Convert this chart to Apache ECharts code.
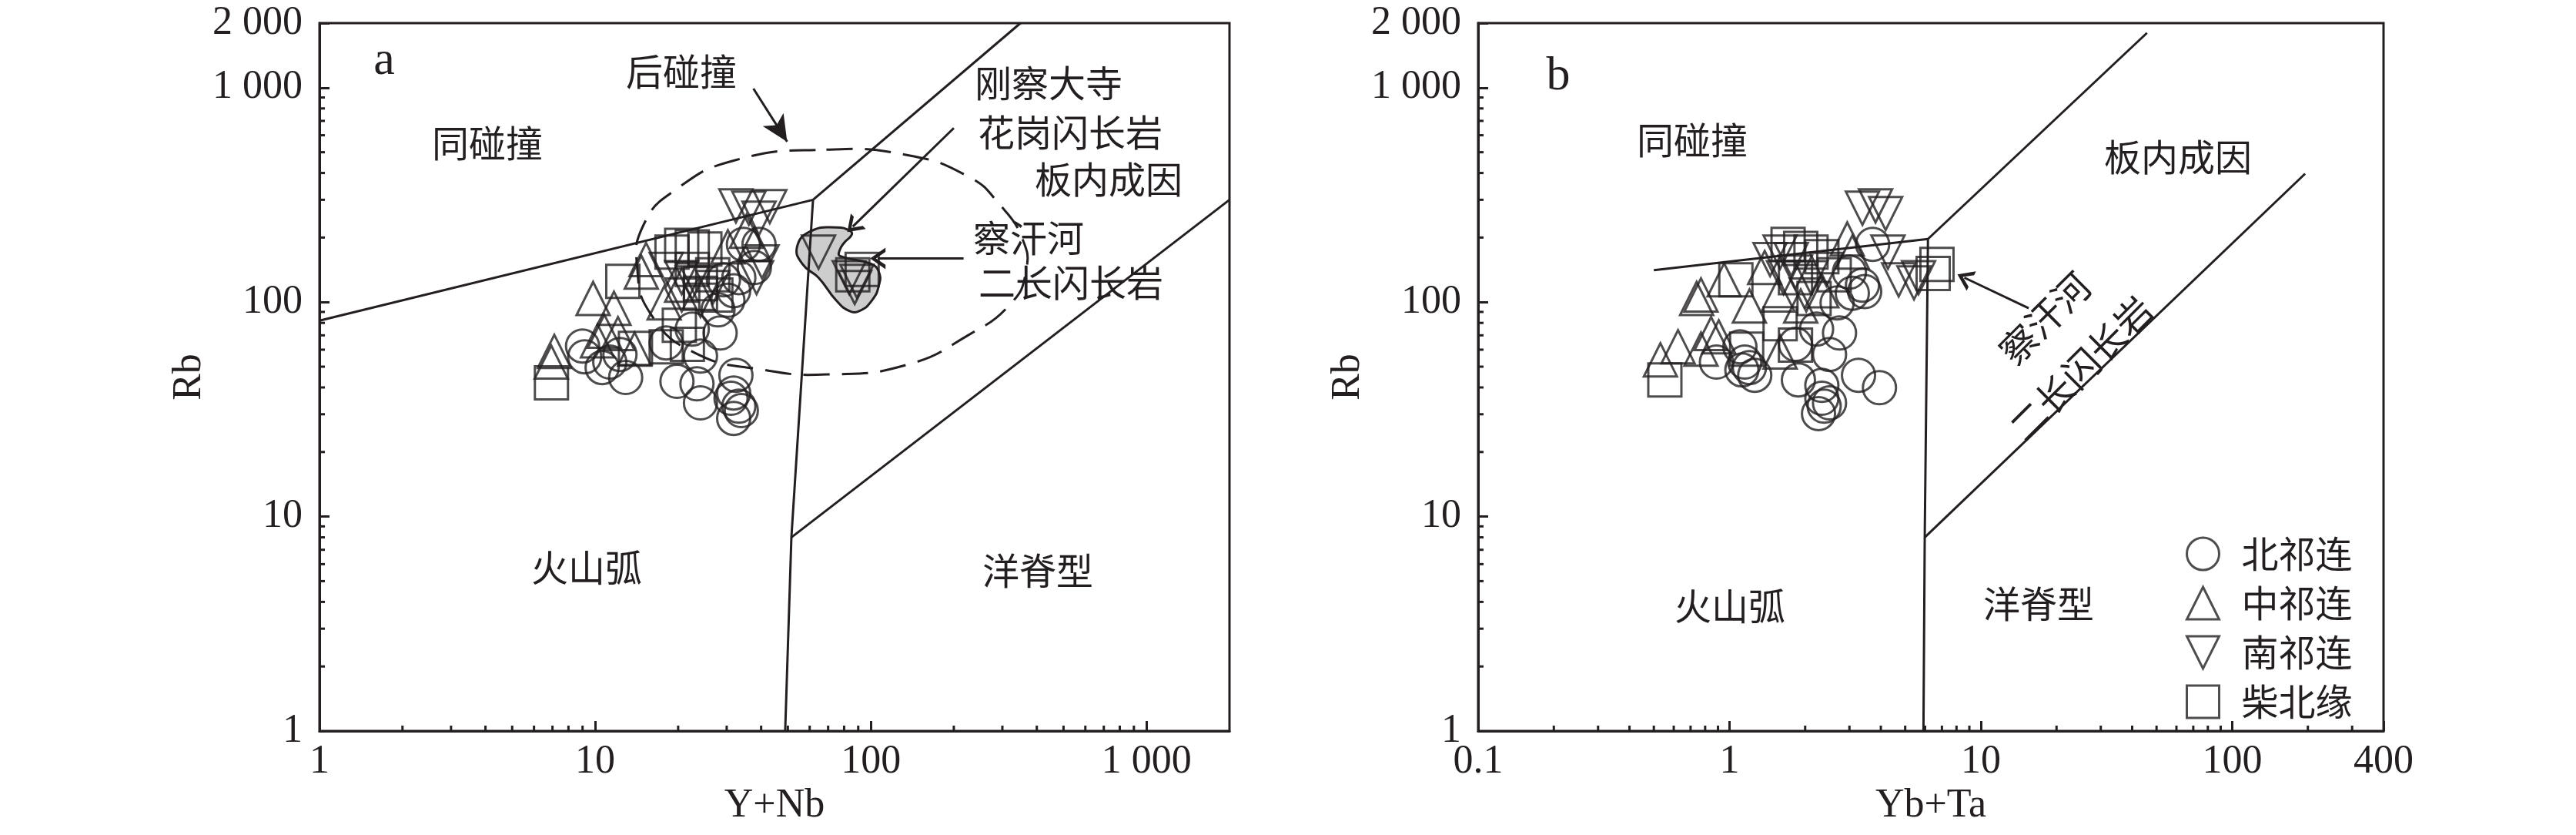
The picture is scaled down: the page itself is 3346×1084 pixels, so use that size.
<!DOCTYPE html>
<html><head><meta charset="utf-8">
<script src="https://cdn.jsdelivr.net/npm/echarts@6/dist/echarts.min.js"></script>
<style>html,body{margin:0;padding:0;background:#fff}#c{width:3346px;height:1084px}</style>
</head><body><div id="c"></div><script>
const INK = '#231f20';
const SERIF = '"Liberation Serif", "Times New Roman", serif';
const CJK = '"Noto Sans CJK SC", sans-serif';

// ---- series names ----
const groupNames = ['北祁连', '中祁连', '南祁连', '柴北缘'];

// ---- plot a : (Y+Nb, Rb) ----
const circA = [[9.0,62.4],[9.16,55.6],[10.6,49.5],[11.3,52.5],[12.9,44.5],[12.3,57],[19.8,42.7],[18.1,64.5],[22.5,74.9],[23.4,41.6],[24.1,33.9],[24.1,56],[28.4,71.8],[27.9,92],[31.8,113],[34.5,186],[39.3,186],[32.4,45.6],[31.8,37.7],[31.8,28.7],[33.2,32.7],[33.9,31.2],[31.1,35.6],[29.2,127],[33.2,130],[30.3,102],[37.8,145]];
const triA = [[7.11,58.9],[6.93,52.5],[9.83,104],[11.7,93.6],[10.8,73.1],[12.1,71.3],[13.9,60.4],[15.3,158],[14.7,138],[17.8,99.2],[30.3,181],[35.4,214],[37.8,186],[20.6,120],[10.2,66]];
const invA = [[32.4,281],[36.1,274],[43,279],[39.3,246],[40.3,154],[38.5,130],[18.1,142],[20.6,130],[22.5,123],[20.6,108],[24.1,102],[26.7,117],[64.6,171],[83.5,130],[87.4,117],[89,125]];
const sqA = [[6.94,42],[12.6,125],[20.6,184],[22.5,181],[25,177],[19,171],[22.5,142],[26.7,134],[24.1,110],[27.4,108],[20.2,78],[14,60.9],[18.1,61.9],[21.6,63.5],[24.1,122],[93,142],[86,134]];

// ---- plot b : (Yb+Ta, Rb) ----
const circB = [[0.887,52.5],[1.10,61.9],[1.15,52.5],[1.12,48.3],[1.20,49.5],[1.26,45.6],[1.83,63.5],[1.88,43.4],[2.22,74.9],[2.50,57],[2.74,71.8],[2.68,99.2],[3.08,110],[3.45,112],[3.71,186],[2.33,40.9],[2.33,35.6],[2.38,32.7],[2.26,30.2],[2.50,33.9],[3.26,45.6],[3.95,39.9],[3.0,138],[3.38,120]];
const triB = [[0.531,53.8],[0.624,61.9],[0.77,60.4],[0.77,108],[0.845,71.3],[0.906,68.9],[0.952,127],[1.20,95.9],[1.38,145],[1.56,108],[2.94,197],[3.08,171],[1.59,58.5],[2.33,113],[1.92,95.9],[0.74,104]];
const invB = [[3.38,274],[3.81,281],[4.18,259],[4.27,171],[4.71,127],[5.42,123],[5.65,130],[1.59,171],[1.76,158],[1.83,138],[2.11,130],[2.02,108],[1.64,130],[2.43,142],[1.45,158]];
const sqB = [[0.553,43.4],[1.06,127],[1.71,186],[1.92,178],[2.11,171],[2.33,163],[1.83,130],[2.17,104],[1.59,79.3],[1.83,63],[1.17,60.4],[6.69,150],[6.46,136],[2.61,134]];

// ---- discrimination boundaries ----
const bndA = [
  [[1,82],[61.7,300]],
  [[61.7,300],[349,2000]],
  [[61.7,300],[51.5,8],[48.9,1]],
  [[51.5,8],[2000,300]]
];
const bndB = [
  [[0.5,141],[6.16,197]],
  [[6.16,197],[45.8,1800]],
  [[6.16,197],[5.98,8],[5.91,1]],
  [[5.98,8],[195,397]]
];
// post-collision field (dashed) and 刚察大寺 field (grey)
const postColA = [[69,514],[135,485],[225,386],[290,290],[356,195],[365,138],[321,98],[225,70],[135,51],[70,46],[40,48.5],[23,58],[16,87],[14.2,146],[15,230],[19.3,330],[32,458]];
const gangchaA = [[54,181],[60.5,214],[75,223],[84.5,214],[85,205],[80,189],[77,174],[77.3,164],[100,151],[107,138],[107,120],[101,102],[91,91],[83.5,91],[74.8,102],[64.6,130],[56.6,150]];
// arrows [from, to]
const arrowsA = [
  {from:[37.5,990], to:[49.7,560], head:'filled'},
  {from:[200,648], to:[86,225], head:'open'},
  {from:[217,160], to:[106,160], head:'open'}
];
const arrowsB = [
  {from:[15.5,93.6], to:[8.6,130], head:'open'}
];

// ---- ticks ----
const xTickValsA = [1,10,100,1000], xTickLabelsA = ['1','10','100','1 000'];
const yTickVals = [1,10,100,1000,2000], yTickLabels = ['1','10','100','1 000','2 000'];
const xTickValsB = [0.1,1,10,100,400], xTickLabelsB = ['0.1','1','10','100','400'];
const minorA = [2,3,4,5,6,7,8,9,20,30,40,50,60,70,80,90,200,300,400,500,600,700,800,900];
const minorY = [2,3,4,5,6,7,8,9,20,30,40,50,60,70,80,90,200,300,400,500,600,700,800,900];
const minorB = [0.2,0.3,0.4,0.5,0.6,0.7,0.8,0.9,2,3,4,5,6,7,8,9,20,30,40,50,60,70,80,90,200,300];

function fmt(vals, labels){
  return function(v){
    for (let i=0;i<vals.length;i++){
      if (Math.abs(Math.log10(v)-Math.log10(vals[i]))<0.004) return labels[i];
    }
    return '';
  };
}

const CHEVRON = 'path://M0,10 L5,0 L10,10 L8,10 L5,3.8 L2,10 Z';
const INV_TRI = 'path://M0,0 L10,0 L5,10 Z';
const symbols = ['circle','triangle',INV_TRI,'rect'];
const hollow = {color:'rgba(0,0,0,0)', borderColor:INK, borderWidth:3};

function axisX(gi, min, max, name, vals, labels, showMax){
  return {
    type:'log', logBase:10, gridIndex:gi, min:min, max:max,
    name:name, nameLocation:'middle', nameGap:70,
    nameTextStyle:{fontFamily:SERIF, fontSize:52, color:INK},
    axisLine:{show:true, lineStyle:{color:INK, width:3}},
    axisTick:{show:true, inside:true, length:13, lineStyle:{color:INK, width:3}},
    axisLabel:{formatter:fmt(vals, labels), margin:14, fontFamily:SERIF, fontSize:52, color:INK, showMinLabel:true, showMaxLabel:showMax},
    splitLine:{show:false}, minorTick:{show:false}
  };
}
function axisY(gi){
  return {
    type:'log', logBase:10, gridIndex:gi, min:1, max:2000,
    name:'Rb', nameLocation:'middle', nameGap:137, nameRotate:90,
    nameTextStyle:{fontFamily:SERIF, fontSize:52, color:INK},
    axisLine:{show:true, lineStyle:{color:INK, width:3}},
    axisTick:{show:true, inside:true, length:13, lineStyle:{color:INK, width:3}},
    axisLabel:{formatter:fmt(yTickVals, yTickLabels), margin:22, fontFamily:SERIF, fontSize:52, color:INK, showMinLabel:true, showMaxLabel:true},
    splitLine:{show:false}
  };
}

const series = [];
function addPlot(gi, pts, bnd, minorX, xMin){
  pts.forEach((d, i) => {
    series.push({
      type:'scatter', name:groupNames[i], xAxisIndex:gi, yAxisIndex:gi,
      data:d, symbol:symbols[i], symbolSize:43, itemStyle:hollow, z:5,
      emphasis:{disabled:true}
    });
  });
  bnd.forEach(seg => {
    series.push({
      type:'line', xAxisIndex:gi, yAxisIndex:gi, data:seg, symbol:'none',
      lineStyle:{color:INK, width:3}, z:3, silent:true
    });
  });
  // minor ticks
  series.push({
    type:'custom', xAxisIndex:gi, yAxisIndex:gi, silent:true, z:4,
    data:minorX.map(v => [v, 1]), encode:{x:0, y:1},
    renderItem:function(params, api){
      const p = api.coord([api.value(0), api.value(1)]);
      return {type:'line', shape:{x1:p[0], y1:p[1], x2:p[0], y2:p[1]-7}, style:{stroke:INK, lineWidth:3}};
    }
  });
  series.push({
    type:'custom', xAxisIndex:gi, yAxisIndex:gi, silent:true, z:4,
    data:minorY.map(v => [xMin, v]), encode:{x:0, y:1},
    renderItem:function(params, api){
      const p = api.coord([api.value(0), api.value(1)]);
      return {type:'line', shape:{x1:p[0], y1:p[1], x2:p[0]+7, y2:p[1]}, style:{stroke:INK, lineWidth:3}};
    }
  });
}
addPlot(0, [circA, triA, invA, sqA], bndA, minorA, 1);
addPlot(1, [circB, triB, invB, sqB], bndB, minorB, 0.1);

function polySeries(gi, pts, style, z){
  return {
    type:'custom', xAxisIndex:gi, yAxisIndex:gi, silent:true, z:z,
    data:pts, encode:{x:0, y:1},
    renderItem:function(params, api){
      if (params.dataIndex !== 0) return;
      const pp = pts.map(p => api.coord(p));
      return {type:'polygon', shape:{points:pp, smooth:0.5}, style:style};
    }
  };
}
series.push(polySeries(0, gangchaA, {fill:'#cdcdcd', stroke:INK, lineWidth:3}, 2));
series.push(polySeries(0, postColA, {fill:'none', stroke:INK, lineWidth:3, lineDash:[34,16]}, 2));

function arrowSeries(gi, arrows){
  return {
    type:'line', xAxisIndex:gi, yAxisIndex:gi, data:[], silent:true,
    markLine:{
      silent:true, animation:false, label:{show:false},
      lineStyle:{type:'solid', color:INK, width:3},
      data:arrows.map(a => [
        {coord:a.from, symbol:'none'},
        {coord:a.to, symbol: a.head==='filled' ? 'arrow' : CHEVRON,
         symbolSize: a.head==='filled' ? [24,34] : [28,20],
         itemStyle:{color:INK}}
      ])
    }
  };
}
series.push(arrowSeries(0, arrowsA));
series.push(arrowSeries(1, arrowsB));

const T = (text, x, y, font, rot) => ({
  type:'text', x:x, y:y, rotation:rot||0, silent:true,
  style:{text:text, font:font, fill:INK, align:'center', verticalAlign:'middle'}
});
const fC = 'normal 48px ' + CJK;
const fL = 'normal 62px ' + SERIF;
const graphics = [
  T('a', 499, 80, fL), T('后碰撞', 885, 93, fC), T('同碰撞', 633, 186, fC),
  T('刚察大寺', 1362, 108, fC), T('花岗闪长岩', 1390, 172, fC), T('板内成因', 1440, 233, fC),
  T('察汗河', 1336, 309, fC), T('二长闪长岩', 1391, 367, fC),
  T('火山弧', 762, 737, fC), T('洋脊型', 1348, 741, fC),
  T('b', 2024, 100, fL), T('同碰撞', 2198, 182, fC), T('板内成因', 2829, 204, fC),
  T('火山弧', 2247, 787, fC), T('洋脊型', 2648, 784, fC),
  T('察汗河', 2656, 413, fC, Math.PI/4), T('二长闪长岩', 2703, 478, fC, Math.PI/4)
];

const option = {
  animation:false,
  backgroundColor:'#ffffff',
  grid:[
    {left:415, top:30, width:1182, height:919, show:true, borderColor:INK, borderWidth:3, backgroundColor:'rgba(0,0,0,0)'},
    {left:1920, top:30, width:1176, height:919, show:true, borderColor:INK, borderWidth:3, backgroundColor:'rgba(0,0,0,0)'}
  ],
  xAxis:[
    axisX(0, 1, 2000, 'Y+Nb', xTickValsA, xTickLabelsA, false),
    axisX(1, 0.1, 400, 'Yb+Ta', xTickValsB, xTickLabelsB, true)
  ],
  yAxis:[axisY(0), axisY(1)],
  legend:{
    orient:'vertical', left:2834, top:690, itemWidth:42, itemHeight:42, itemGap:16,
    data:groupNames, selectedMode:false,
    itemStyle:{color:'rgba(0,0,0,0)', borderColor:INK, borderWidth:3},
    textStyle:{fontFamily:CJK, fontSize:48, color:INK, padding:[0,0,0,24]}
  },
  graphic:graphics,
  series:series
};
const chart = echarts.init(document.getElementById('c'));
chart.setOption(option);
</script></body></html>
